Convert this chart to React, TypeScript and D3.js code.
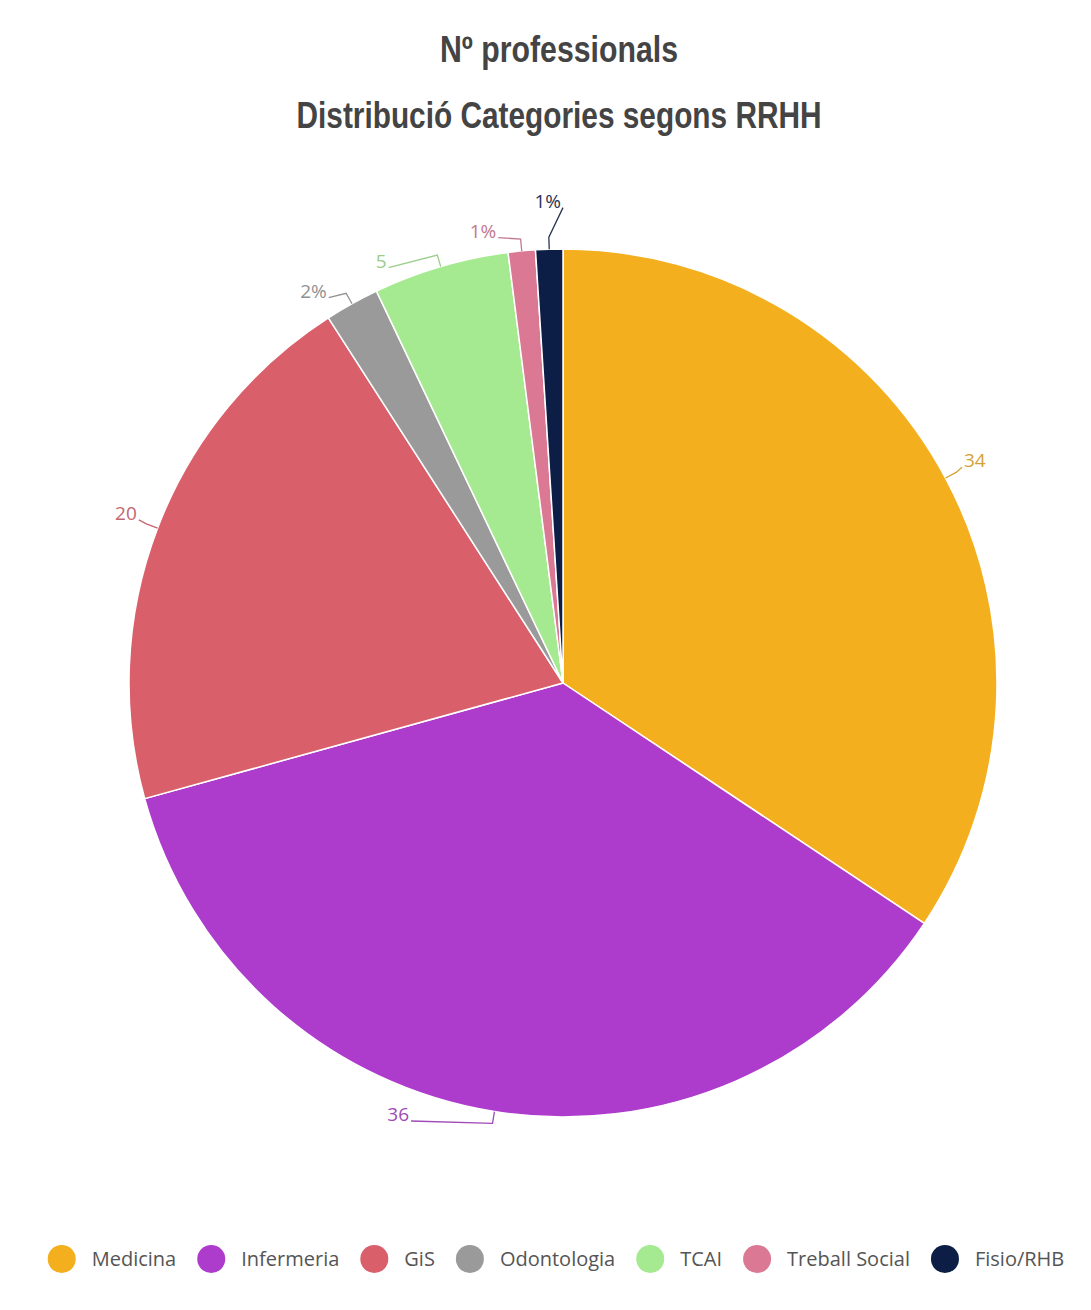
import React, { useEffect, useRef } from "react";
import * as d3 from "d3";

const categories = ["Medicina", "Infermeria", "GiS", "Odontologia", "TCAI", "Treball Social", "Fisio/RHB"];
const values = [34, 36, 20, 2, 5, 1, 1];
const labelTexts = ["34", "36", "20", "2%", "5", "1%", "1%"];
const colors = ["#F3AF1E", "#AD3BCC", "#D9606B", "#9A9A9A", "#A5E990", "#DB7893", "#0C1E45"];
const titleLines = ["Nº professionals", "Distribució Categories segons RRHH"];

const W = 1091;
const H = 1310;
const cx = 563;
const cy = 683;
const R = 434;
const labelR = R + 23;
const labelGap = 30;
const halfText = 7;

export default function App() {
  const ref = useRef<SVGSVGElement | null>(null);

  useEffect(() => {
    const svg = d3.select(ref.current);
    svg.selectAll("*").remove();

    svg.append("rect").attr("width", W).attr("height", H).attr("fill", "#ffffff");

    // Title
    const title = svg.append("g");
    const titleY = [62, 128];
    const titleW = [238, 525];
    titleLines.forEach((t, i) => {
      title
        .append("text")
        .attr("x", 559)
        .attr("y", titleY[i])
        .attr("text-anchor", "middle")
        .attr("font-family", "'Liberation Sans', sans-serif")
        .attr("font-weight", "bold")
        .attr("font-size", 37)
        .attr("fill", "#444444")
        .attr("textLength", titleW[i])
        .attr("lengthAdjust", "spacingAndGlyphs")
        .text(t);
    });

    // Pie
    const pie = d3
      .pie<number>()
      .sort(null)
      .value((d) => d)
      .startAngle(0)
      .endAngle(2 * Math.PI);
    const arcs = pie(values);
    const arc = d3.arc<d3.PieArcDatum<number>>().innerRadius(0).outerRadius(R);

    const g = svg.append("g").attr("transform", `translate(${cx},${cy})`);
    g.selectAll("path")
      .data(arcs)
      .join("path")
      .attr("d", arc as any)
      .attr("fill", (_, i) => colors[i])
      .attr("stroke", "#ffffff")
      .attr("stroke-width", 1.5)
      .attr("stroke-linejoin", "round");

    // Labels
    type Lab = { i: number; a: number; side: number; y0: number; y: number; x: number };
    const labs: Lab[] = arcs.map((d, i) => {
      const a = (d.startAngle + d.endAngle) / 2;
      const side = Math.sin(a) >= 0 ? 1 : -1;
      const y0 = -labelR * Math.cos(a);
      return { i, a, side, y0, y: y0, x: 0 };
    });

    const distribute = (items: Lab[]) => {
      items.sort((p, q) => p.y0 - q.y0);
      let clusters = items.map((it) => ({ members: [it], y: it.y0 }));
      let merged = true;
      while (merged) {
        merged = false;
        for (let k = 0; k < clusters.length - 1; k++) {
          const A = clusters[k];
          const B = clusters[k + 1];
          const aEnd = A.y + (A.members.length - 1) * labelGap;
          if (B.y - aEnd < labelGap) {
            const members = A.members.concat(B.members);
            const y = d3.mean(members, (m, j) => m.y0 - j * labelGap) as number;
            clusters.splice(k, 2, { members, y });
            merged = true;
            break;
          }
        }
      }
      clusters.forEach((c) => {
        const off = c.members.length > 1 ? halfText : 0;
        c.members.forEach((m, j) => (m.y = c.y + j * labelGap + off));
      });
    };
    distribute(labs.filter((l) => l.side < 0));
    distribute(labs.filter((l) => l.side > 0));

    const lo = -labelR - 30;
    const hi = R + 4;
    labs.forEach((l) => {
      l.y = Math.max(lo, Math.min(hi, l.y));
      const yc = l.y - halfText;
      const dx = Math.sqrt(Math.max(0, labelR * labelR - yc * yc));
      l.x = l.side * dx;
    });

    const lg = svg.append("g").attr("transform", `translate(${cx},${cy})`);
    labs.forEach((l) => {
      const col = d3.interpolateRgb(colors[l.i], "#777777")(0.25);
      const ex = R * Math.sin(l.a);
      const ey = -R * Math.cos(l.a);
      const crR = R + 12;
      const kx = crR * Math.sin(l.a);
      const ky = -crR * Math.cos(l.a);
      const line = d3.line();
      lg.append("path")
        .attr("d", line([[ex, ey], [kx, ky], [l.x, l.y]]) as string)
        .attr("fill", "none")
        .attr("stroke", col)
        .attr("stroke-width", 1.3);
      lg.append("text")
        .attr("x", l.x + l.side * 2)
        .attr("y", l.y)
        .attr("text-anchor", l.side > 0 ? "start" : "end")
        .attr("font-family", "'Open Sans', sans-serif")
        .attr("font-size", 19)
        .attr("fill", col)
        .text(labelTexts[l.i]);
    });

    // Legend
    const legY = 1259;
    const circR = 14;
    const textGap = 16;
    const itemGap = 21;
    const leg = svg.append("g");
    const items = categories.map((c, i) => {
      const it = leg.append("g");
      it.append("circle").attr("r", circR).attr("cy", legY).attr("fill", colors[i]);
      const tx = it
        .append("text")
        .attr("y", legY + 7)
        .attr("font-family", "'Open Sans', sans-serif")
        .attr("font-size", 20)
        .attr("fill", "#555555")
        .text(c);
      const w = (tx.node() as SVGTextElement).getComputedTextLength();
      return { it, tx, w };
    });
    const total =
      d3.sum(items, (d) => 2 * circR + textGap + d.w) + itemGap * (items.length - 1);
    let x = 556 - total / 2;
    items.forEach((d) => {
      d.it.select("circle").attr("cx", x + circR);
      d.tx.attr("x", x + 2 * circR + textGap);
      x += 2 * circR + textGap + d.w + itemGap;
    });
  }, []);

  return (
    <svg
      ref={ref}
      width={W}
      height={H}
      style={{ position: "absolute", left: 0, top: 0, display: "block" }}
    />
  );
}
